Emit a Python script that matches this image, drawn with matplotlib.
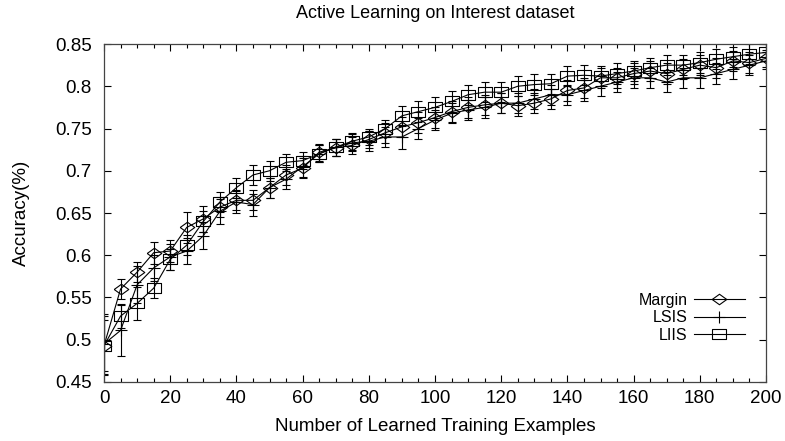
import numpy as np
import matplotlib
matplotlib.use("Agg")
import matplotlib.pyplot as plt
from matplotlib.lines import Line2D

plt.rcParams['font.family'] = ['Liberation Sans', 'DejaVu Sans']
plt.rcParams['font.size'] = 13.5

x = list(range(0, 201, 5))

margin = [0.493, 0.560, 0.580, 0.603, 0.605, 0.633, 0.643, 0.657, 0.665, 0.665,
          0.680, 0.695, 0.703, 0.722, 0.727, 0.730, 0.737, 0.745, 0.752, 0.757,
          0.763, 0.770, 0.775, 0.778, 0.780, 0.777, 0.780, 0.785, 0.795, 0.798,
          0.810, 0.810, 0.815, 0.818, 0.815, 0.820, 0.825, 0.822, 0.830, 0.828,
          0.833]
lsis = [0.495, 0.511, 0.565, 0.585, 0.598, 0.605, 0.623, 0.652, 0.663, 0.660,
        0.680, 0.690, 0.705, 0.720, 0.728, 0.733, 0.735, 0.740, 0.740, 0.750,
        0.760, 0.768, 0.772, 0.775, 0.780, 0.780, 0.785, 0.790, 0.790, 0.795,
        0.800, 0.805, 0.810, 0.810, 0.805, 0.810, 0.810, 0.815, 0.820, 0.825,
        0.830]
liis = [0.493, 0.528, 0.543, 0.561, 0.595, 0.612, 0.640, 0.663, 0.680, 0.695,
        0.700, 0.710, 0.712, 0.720, 0.728, 0.735, 0.740, 0.750, 0.765, 0.770,
        0.775, 0.782, 0.790, 0.793, 0.793, 0.800, 0.802, 0.803, 0.812, 0.813,
        0.812, 0.815, 0.818, 0.822, 0.825, 0.825, 0.828, 0.832, 0.835, 0.838,
        0.840]

margin_err = [0.035, 0.012, 0.012, 0.013, 0.013, 0.018, 0.015, 0.012, 0.012, 0.012,
              0.012, 0.012, 0.012, 0.010, 0.010, 0.010, 0.010, 0.012, 0.012, 0.012,
              0.012, 0.012, 0.012, 0.012, 0.012, 0.012, 0.012, 0.012, 0.012, 0.012,
              0.012, 0.012, 0.012, 0.012, 0.012, 0.012, 0.012, 0.012, 0.012, 0.012,
              0.010]
lsis_err = [0.035, 0.030, 0.022, 0.015, 0.015, 0.015, 0.016, 0.015, 0.013, 0.013,
            0.012, 0.012, 0.012, 0.010, 0.010, 0.010, 0.012, 0.012, 0.014, 0.013,
            0.012, 0.012, 0.012, 0.012, 0.012, 0.012, 0.012, 0.012, 0.012, 0.012,
            0.012, 0.012, 0.012, 0.012, 0.012, 0.012, 0.012, 0.012, 0.012, 0.012,
            0.010]
liis_err = [0.030, 0.014, 0.020, 0.012, 0.012, 0.012, 0.012, 0.012, 0.012, 0.012,
            0.012, 0.010, 0.010, 0.010, 0.010, 0.010, 0.010, 0.010, 0.012, 0.012,
            0.012, 0.012, 0.012, 0.012, 0.012, 0.012, 0.012, 0.012, 0.012, 0.012,
            0.012, 0.012, 0.012, 0.012, 0.012, 0.012, 0.012, 0.012, 0.012, 0.012,
            0.010]

diamond = [(-1, 0), (0, 0.72), (1, 0), (0, -0.72), (-1, 0)]
box = [(-1, -0.75), (1, -0.75), (1, 0.75), (-1, 0.75), (-1, -0.75)]

fig = plt.figure(figsize=(7.85, 4.41), dpi=100)
ax = fig.add_axes([0.1325, 0.1338, 0.8433, 0.7664])

series = [
    ("Margin", margin, margin_err, diamond, 10.5),
    ("LSIS", lsis, lsis_err, "+", 9),
    ("LIIS", liis, liis_err, box, 10.5),
]
handles = []
for name, y, e, m, ms in series:
    ax.errorbar(x, y, yerr=e, color='black', lw=0.8, elinewidth=0.8,
                capsize=3, capthick=0.8, marker=m, ms=ms, mfc='none',
                mec='black', mew=0.8)
    handles.append(Line2D([], [], color='black', lw=0.8, marker=m, ms=ms,
                          mfc='none', mec='black', mew=0.8, label=name))

ax.set_xlim(0, 200)
ax.set_ylim(0.45, 0.85)
ax.set_xticks(range(0, 201, 20))
ax.set_xticks(range(0, 201, 5), minor=True)
ax.set_yticks(np.arange(0.45, 0.851, 0.05))
ax.set_yticklabels(['0.45', '0.5', '0.55', '0.6', '0.65', '0.7', '0.75', '0.8', '0.85'])
ax.tick_params(direction='in', top=True, right=True, length=5, width=0.8, labelsize=13.5, pad=6)
ax.tick_params(axis='y', pad=9)
ax.tick_params(which='minor', direction='in', top=True, right=False, length=3, width=0.8)
for s in ax.spines.values():
    s.set_linewidth(0.9)
    s.set_color('#444444')

ax.set_title("Active Learning on Interest dataset", fontsize=13, pad=19)
ax.set_xlabel("Number of Learned Training Examples", fontsize=13.5, labelpad=8)
ax.set_ylabel("Accuracy(%)", fontsize=13.5, labelpad=18)

ax.legend(handles=handles, loc='center right', bbox_to_anchor=(0.99, 0.19),
          frameon=False, markerfirst=False, handlelength=3.2, labelspacing=0.15,
          handletextpad=0.4, fontsize=11.5)

fig.savefig("out.png", dpi=100)
